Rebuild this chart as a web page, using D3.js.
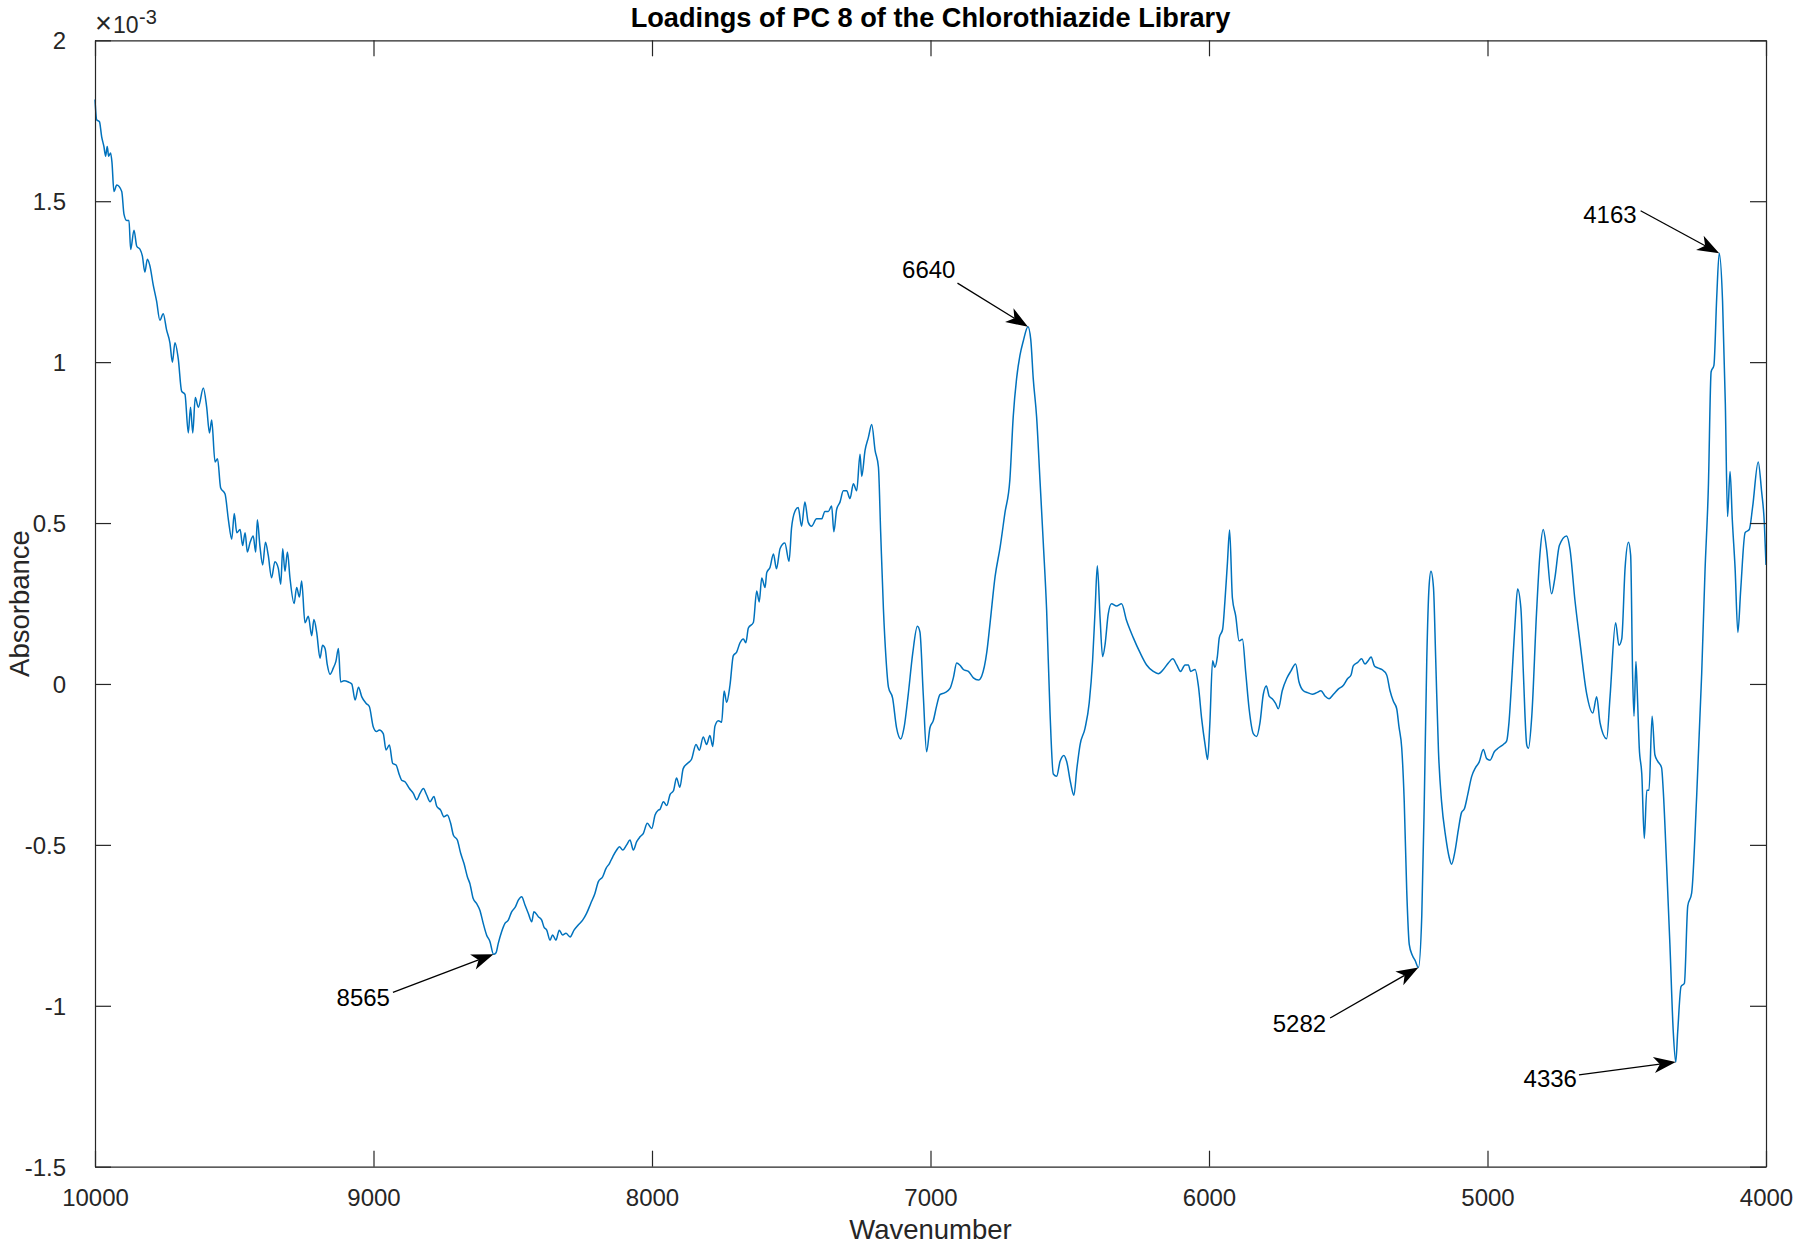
<!DOCTYPE html>
<html>
<head>
<meta charset="utf-8">
<script src="https://cdn.jsdelivr.net/npm/d3@7"></script>
<style>
  html, body { margin: 0; padding: 0; background: #fff; }
  svg { display: block; font-family: "Liberation Sans", Arial, Helvetica, sans-serif; }
</style>
</head>
<body>
<svg id="chart" width="1800" height="1248"></svg>
<script>
// ---------------- DATA ----------------
// Wavenumber (cm^-1) and PC 8 loading (units of 1e-3)
const wavenumber = [
10000,9994,9984,9976,9968,9962,9956,9951,9944,9939,9932,9922,9904,9896,9886,9878,9872,9860,9850,9838,
9830,9821,9812,9803,9791,9779,9767,9755,9743,9731,9722,9713,9701,9689,9677,9665,9657,9649,9640,9629,
9611,9599,9589,9581,9569,9560,9549,9533,9521,9509,9500,9491,9479,9470,9461,9453,9443,9432,9423,9417,
9408,9398,9388,9378,9366,9354,9342,9333,9326,9318,9309,9300,9285,9276,9266,9258,9246,9234,9222,9214,
9204,9192,9183,9174,9166,9156,9144,9135,9126,9118,9106,9090,9078,9066,9054,9042,9027,9015,
9001,8989,8979,8965,8955,8943,8931,8919,8907,8899,8887,8871,8857,8845,8833,8821,8809,8797,8783,8773,
8759,8747,8735,8723,8713,8699,8687,8675,8663,8654,8642,8630,8618,8606,8594,8582,8569,8560,8552,8540,
8528,8516,8504,8490,8480,8468,8456,8444,8432,8424,8408,8396,8388,8378,8366,8357,8345,8333,8321,8309,
8294,8280,8265,8249,8235,8220,8205,8193,8177,8165,8153,8141,8127,8117,8105,8091,8079,8067,8055,8043,
8031,8017,8001,7989,7977,
7971,7959,7947,7935,7923,7912,7900,7888,7870,7858,7842,7830,7816,7804,7792,7782,7774,7762,7750,7741,
7732,7720,7708,7696,7684,7672,7663,7654,7636,7624,7615,7606,7594,7588,7576,7564,7553,7540,7523,7508,
7499,7487,7475,7463,7451,7439,7427,7409,7391,7379,7367,7355,7347,7337,7325,7313,7301,7289,7277,7265,
7253,7247,7235,7223,7211,7199,7187,7179,7169,7160,7151,7136,7122,7107,7095,7080,7064,7047,7038,7026,
7014,7002,6990,6978,
6966,6948,6930,6918,6906,6894,6882,6864,6846,6828,6816,6798,6786,6768,6750,6733,6715,6703,6691,6679,
6667,6650,6640,6631,6619,6607,6595,6583,6571,6559,6547,6535,6521,6511,6497,6485,6475,6463,6445,6430,
6418,6409,6401,6391,6382,6373,6362,6350,6332,6314,6296,6272,6248,6224,6200,6182,6164,6146,6130,6116,
6102,6086,6074,6066,6050,6038,6026,6014,6005,5997,5987,5979,5970,5963,5951,5943,5934,
5926,5916,5904,5892,5880,5868,5856,5841,5829,5817,5805,5794,5784,5773,5761,5751,5737,5721,5706,5689,
5677,5661,5646,5629,5613,5598,5583,5569,5553,5536,5518,5502,5490,5482,5466,5452,5440,5428,5418,5406,
5394,5380,5362,5350,5338,5326,5318,5308,5299,5290,5281,5270,5260,5248,5236,5227,5218,5210,5203,5194,
5186,5176,5165,5150,5138,5129,5117,5105,5093,5083,5071,5057,5043,5030,5015,5003,4991,4975,4961,4943,
4931,4923,4913,4901,4892,4880,
4871,4859,4853,4841,4824,4812,4800,4788,4770,4758,4742,4716,4704,4686,4668,4644,4622,4608,4596,4572,
4560,4540,4528,4518,4506,4494,4486,4479,4474,4467,4462,4455,4446,4437,4428,4420,4409,4399,4389,4375,
4369,4357,4345,4333,4324,4317,4305,4293,4281,4267,4249,4231,4219,4207,4197,4187,4177,4168,4156,4146,
4138,4129,4121,4111,4101,4091,4075,4060,4048,4028,4016,4006,4000
];
const absorbance = [
1.816,1.753,1.747,1.70,1.67,1.64,1.67,1.64,1.65,1.62,1.53,1.55,1.53,1.46,1.44,1.44,1.35,1.41,1.36,1.35,
1.33,1.28,1.32,1.30,1.24,1.19,1.13,1.15,1.10,1.06,1.00,1.06,1.01,0.91,0.90,0.78,0.86,0.78,0.89,0.86,
0.92,0.86,0.78,0.82,0.69,0.70,0.61,0.59,0.51,0.45,0.53,0.47,0.48,0.43,0.47,0.41,0.44,0.46,0.41,0.51,
0.43,0.37,0.44,0.40,0.33,0.38,0.36,0.31,0.42,0.35,0.41,0.33,0.25,0.30,0.27,0.32,0.19,0.21,0.15,0.20,
0.16,0.08,0.12,0.11,0.06,0.03,0.05,0.07,0.11,0.006,0.01,0.006,0.0,-0.05,-0.01,-0.04,-0.06,-0.07,
-0.133,-0.148,-0.143,-0.154,-0.205,-0.19,-0.247,-0.252,-0.283,-0.299,-0.304,-0.325,-0.34,-0.36,-0.34,-0.325,-0.345,-0.366,-0.35,-0.38,
-0.392,-0.413,-0.407,-0.433,-0.47,-0.485,-0.526,-0.558,-0.599,-0.62,-0.667,-0.682,-0.703,-0.744,-0.78,-0.80,-0.84,-0.835,-0.806,-0.77,
-0.744,-0.734,-0.708,-0.692,-0.672,-0.661,-0.687,-0.713,-0.739,-0.708,-0.723,-0.734,-0.755,-0.765,-0.796,-0.78,-0.796,-0.765,-0.78,-0.775,
-0.786,-0.765,-0.749,-0.734,-0.713,-0.682,-0.651,-0.615,-0.599,-0.573,-0.558,-0.537,-0.516,-0.506,-0.516,-0.5,-0.485,-0.516,-0.49,-0.475,
-0.464,-0.433,-0.449,-0.407,-0.392,
-0.389,-0.366,-0.378,-0.343,-0.332,-0.292,-0.321,-0.263,-0.245,-0.234,-0.188,-0.206,-0.165,-0.188,-0.16,-0.194,-0.131,-0.114,-0.119,-0.022,
-0.057,-0.004,0.088,0.099,0.128,0.140,0.128,0.174,0.191,0.289,0.255,0.329,0.300,0.346,0.363,0.404,0.358,0.421,0.438,0.381,
0.484,0.536,0.548,0.49,0.565,0.502,0.49,0.513,0.513,0.536,0.536,0.553,0.473,0.542,0.565,0.60,0.60,0.576,0.622,0.60,
0.714,0.645,0.726,0.766,0.806,0.726,0.674,0.473,0.232,0.082,-0.01,-0.044,-0.136,-0.171,-0.136,-0.033,0.094,0.179,0.162,-0.033,
-0.211,-0.136,-0.114,-0.068,
-0.033,-0.027,-0.014,0.019,0.065,0.058,0.045,0.039,0.019,0.012,0.025,0.098,0.19,0.334,0.425,0.53,0.635,0.83,0.948,1.02,
1.065,1.11,1.07,0.948,0.83,0.635,0.438,0.229,-0.085,-0.28,-0.287,-0.241,-0.222,-0.241,-0.307,-0.346,-0.267,-0.189,-0.137,-0.058,
0.072,0.229,0.367,0.203,0.085,0.124,0.216,0.249,0.242,0.249,0.197,0.144,0.098,0.059,0.039,0.032,0.045,0.065,0.078,0.059,
0.039,0.059,0.059,0.039,0.045,-0.007,-0.111,-0.189,-0.235,-0.124,0.072,0.052,0.085,0.144,0.170,0.255,0.374,
0.478,0.267,0.211,0.134,0.139,0.034,-0.077,-0.154,-0.163,-0.121,-0.032,-0.006,-0.038,-0.046,-0.06,-0.077,-0.021,0.017,0.040,0.062,
0.007,-0.021,-0.027,-0.032,-0.027,-0.021,-0.038,-0.046,-0.032,-0.016,-0.005,0.017,0.028,0.056,0.067,0.078,0.062,0.073,0.084,0.056,
0.050,0.045,0.028,-0.021,-0.054,-0.077,-0.132,-0.199,-0.365,-0.643,-0.809,-0.843,-0.859,-0.881,-0.72,-0.365,0.078,0.30,0.35,0.30,
0.078,-0.21,-0.365,-0.476,-0.537,-0.56,-0.521,-0.455,-0.399,-0.388,-0.344,-0.288,-0.26,-0.243,-0.204,-0.232,-0.237,-0.21,-0.199,-0.188,
-0.177,-0.121,0.012,0.19,0.295,0.234,
0.03,-0.19,-0.20,-0.10,0.22,0.40,0.48,0.42,0.28,0.33,0.43,0.46,0.42,0.26,0.13,-0.03,-0.09,-0.04,-0.12,-0.17,
-0.04,0.19,0.12,0.14,0.36,0.44,0.40,0.03,-0.10,0.07,-0.03,-0.20,-0.28,-0.48,-0.33,-0.33,-0.10,-0.22,-0.24,-0.26,
-0.33,-0.56,-0.81,-1.08,-1.175,-1.08,-0.94,-0.93,-0.69,-0.65,-0.35,0.03,0.35,0.61,0.97,0.99,1.20,1.338,1.19,0.87,
0.52,0.66,0.51,0.36,0.16,0.29,0.47,0.48,0.55,0.69,0.60,0.50,0.37
];

// Annotated peaks
const peakLabels = ["8565", "6640", "5282", "4336", "4163"];
const peakWavenumber = [8569, 6650, 5248, 4324, 4168];
const peakValue = [-0.84, 1.11, -0.881, -1.175, 1.338];

// Axis ticks
const xTicks = [10000, 9000, 8000, 7000, 6000, 5000, 4000];
const yTicks = [-1.5, -1, -0.5, 0, 0.5, 1, 1.5, 2];

const titleText = "Loadings of PC 8 of the Chlorothiazide Library";
const xLabel = "Wavenumber";
const yLabel = "Absorbance";

// ---------------- LAYOUT ----------------
const svg = d3.select("#chart");
const PL = 95, PR = 1766, PT = 40.3, PB = 1166.7;
const axisColor = "#262626";
const lineColor = "#0072BD";
const tickLen = 16;

const x = d3.scaleLinear().domain([10000, 4000]).range([PL, PR]);
const y = d3.scaleLinear().domain([-1.5, 2]).range([PB, PT]);

const fmt = v => String(v);

// Curve
const pts = wavenumber.map((w, i) => [w, absorbance[i]]);
svg.append("path")
  .datum(pts)
  .attr("fill", "none")
  .attr("stroke", lineColor)
  .attr("stroke-width", 1.5)
  .attr("stroke-linejoin", "round")
  .attr("d", d3.line().curve(d3.curveMonotoneX).x(d => x(d[0])).y(d => y(d[1])));

// Axes (box with mirrored inward ticks)
const gBottom = svg.append("g").attr("transform", `translate(0,${PB})`)
  .call(d3.axisBottom(x).tickValues(xTicks).tickSizeInner(-tickLen).tickSizeOuter(0).tickPadding(22).tickFormat(fmt));
const gTop = svg.append("g").attr("transform", `translate(0,${PT})`)
  .call(d3.axisTop(x).tickValues(xTicks).tickSizeInner(-tickLen).tickSizeOuter(0).tickFormat(""));
const gLeft = svg.append("g").attr("transform", `translate(${PL},0)`)
  .call(d3.axisLeft(y).tickValues(yTicks).tickSizeInner(-tickLen).tickSizeOuter(0).tickPadding(29).tickFormat(fmt));
const gRight = svg.append("g").attr("transform", `translate(${PR},0)`)
  .call(d3.axisRight(y).tickValues(yTicks).tickSizeInner(-tickLen).tickSizeOuter(0).tickFormat(""));

[gBottom, gTop, gLeft, gRight].forEach(g => {
  g.select(".domain").attr("stroke", axisColor).attr("stroke-width", 1.2);
  g.selectAll(".tick line").attr("stroke", axisColor).attr("stroke-width", 1.2);
  g.selectAll(".tick text").attr("fill", axisColor)
    .style("font-family", "'Liberation Sans', Arial, sans-serif")
    .style("font-size", "24px");
});
gBottom.selectAll(".tick text").attr("dy", "0.71em");
gLeft.selectAll(".tick text").attr("dy", "0.36em");

// Exponent label (x 10^-3)
const expT = svg.append("text").attr("fill", axisColor);
expT.append("tspan").attr("x", PL).attr("y", 33).style("font-size", "29px").text("\u00D7");
expT.append("tspan").attr("x", PL + 18).attr("y", 33).style("font-size", "23px").text("10");
expT.append("tspan").attr("x", PL + 44).attr("y", 24).style("font-size", "20px").text("-3");

// Title
svg.append("text")
  .attr("x", (PL + PR) / 2).attr("y", 27)
  .attr("text-anchor", "middle")
  .attr("fill", "#000")
  .style("font-size", "27.2px").style("font-weight", "bold")
  .text(titleText);

// Axis labels
svg.append("text")
  .attr("x", (PL + PR) / 2).attr("y", 1239)
  .attr("text-anchor", "middle")
  .attr("fill", axisColor)
  .style("font-size", "27.5px")
  .text(xLabel);
svg.append("text")
  .attr("transform", `translate(28.5,${(PT + PB) / 2}) rotate(-90)`)
  .attr("text-anchor", "middle")
  .attr("fill", axisColor)
  .style("font-size", "27.5px")
  .text(yLabel);

// Annotations (text arrows): tail offsets from tip and text offsets from tail (pixels)
const tailOffset = [[-100.6, 38], [-70.5, -43.6], [-88.3, 50.5], [-96.8, 12.7], [-78.6, -42.6]];
const textOffset = [[-3, 14], [-2, -4.7], [-4, 14], [-2, 12], [-4, 12.3]];
const headL = 22, headW = 16, notch = 6;

peakLabels.forEach((lab, i) => {
  const tx = x(peakWavenumber[i]), ty = y(peakValue[i]);
  const sx = tx + tailOffset[i][0], sy = ty + tailOffset[i][1];
  const ang = Math.atan2(ty - sy, tx - sx);
  const g = svg.append("g");
  const len = Math.hypot(tx - sx, ty - sy);
  const ex = sx + (tx - sx) * (len - headL + notch) / len;
  const ey = sy + (ty - sy) * (len - headL + notch) / len;
  g.append("line")
    .attr("x1", sx).attr("y1", sy).attr("x2", ex).attr("y2", ey)
    .attr("stroke", "#000").attr("stroke-width", 1.3);
  g.append("path")
    .attr("d", `M0,0 L${-headL},${-headW / 2} L${-headL + notch},0 L${-headL},${headW / 2} Z`)
    .attr("transform", `translate(${tx},${ty}) rotate(${ang * 180 / Math.PI})`)
    .attr("fill", "#000");
  g.append("text")
    .attr("x", sx + textOffset[i][0]).attr("y", sy + textOffset[i][1])
    .attr("text-anchor", "end")
    .attr("fill", "#000")
    .style("font-size", "24px")
    .text(lab);
});
</script>
</body>
</html>
